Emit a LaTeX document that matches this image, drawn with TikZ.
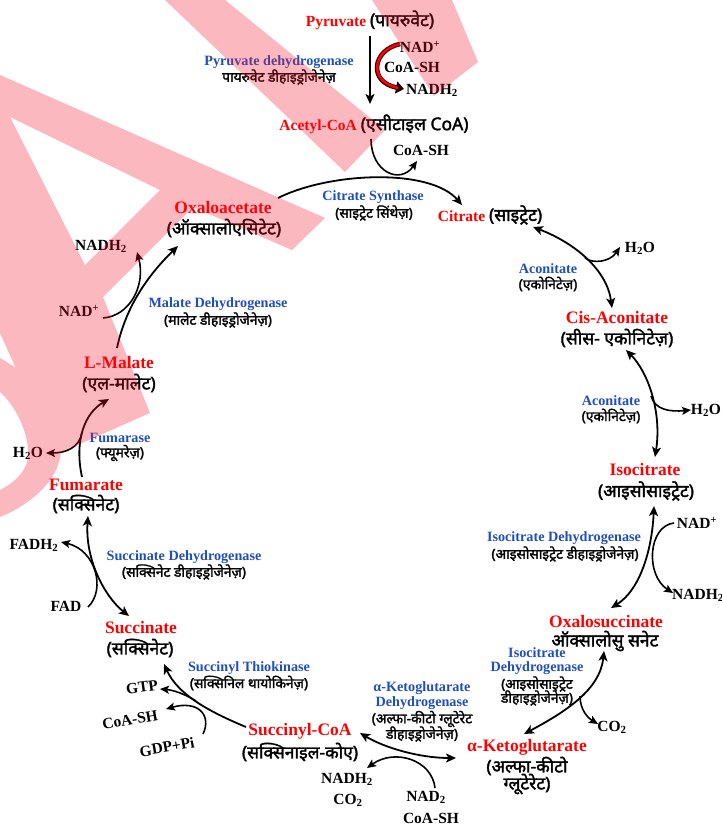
\documentclass[tikz,border=0pt]{standalone}
\usepackage{fontspec}
\setmainfont{Liberation Serif}
\newfontfamily\dev[Script=Devanagari,FakeBold=2]{Noto Sans}
\usetikzlibrary{arrows.meta}
\definecolor{enzblue}{RGB}{31,78,189}
\definecolor{wm}{RGB}{245,20,40}
\definecolor{mainred}{RGB}{255,0,0}
\newcommand\hbig{\dev\mdseries\fontsize{17.5}{19}\selectfont}
\newcommand\hsmall{\dev\mdseries\fontsize{13.8}{15}\selectfont}
\begin{document}
\begin{tikzpicture}[x=1pt,y=-1pt,
  mol/.style={font=\bfseries\fontsize{17.5}{19}\selectfont, text=mainred, inner sep=0pt},
  hin/.style={font=\hbig, inner sep=0pt},
  enz/.style={font=\bfseries\fontsize{14.2}{16}\selectfont, text=enzblue, inner sep=0pt},
  enzh/.style={font=\hsmall, inner sep=0pt},
  chem/.style={font=\bfseries\fontsize{15.5}{17}\selectfont, inner sep=0pt},
  rxn/.style={line width=1.8pt, -{Stealth[length=10pt,width=9pt,inset=2.5pt]}},
  rxn2/.style={line width=1.8pt, {Stealth[length=10pt,width=9pt,inset=2.5pt]}-{Stealth[length=10pt,width=9pt,inset=2.5pt]}},
  side/.style={line width=1.6pt, -{Stealth[length=9pt,width=8pt,inset=2pt]}}]
\useasboundingbox (0,0) rectangle (722,829);
\fill[white] (0,0) rectangle (722,829);

% ---------- texts ----------
\node[chem] (pyr) at (370,20) {\textcolor{mainred}{Pyruvate} {\hbig(पायरुवेट)}};
\node[chem] (nad1) at (420,47) {NAD\textsuperscript{+}};
\node[chem] (coa1) at (412,67) {CoA-SH};
\node[chem] (nadh1) at (432,90) {NADH\textsubscript{2}};
\node[enz] (pdh) at (279,62) {Pyruvate dehydrogenase};
\node[enzh] (pdhh) at (279,77) {पायरुवेट डीहाइड्रोजेनेज़};
\node[chem] (acoa) at (374,124) {\textcolor{mainred}{Acetyl-CoA} {\hbig(एसीटाइल CoA)}};
\node[chem] (coa2) at (421,150) {CoA-SH};
\node[enz] (cs) at (373,197) {Citrate Synthase};
\node[enzh] (csh) at (374,213) {(साइट्रेट सिंथेज़)};
\node[chem] (cit) at (490,215) {\textcolor{mainred}{Citrate} {\hbig(साइट्रेट)}};
\node[mol] (oaa) at (223,208) {Oxaloacetate};
\node[hin] (oaah) at (224,228) {(ऑक्सालोएसिटेट)};
\node[chem] (w1) at (640,248) {H\textsubscript{2}O};
\node[enz] (acn1) at (548,269) {Aconitate};
\node[enzh] (acn1h) at (548,284) {(एकोनिटेज़)};
\node[mol] (cis) at (617,318) {Cis-Aconitate};
\node[hin] (cish) at (617,338) {(सीस- एकोनिटेज़)};
\node[enz] (acn2) at (611,401) {Aconitate};
\node[enzh] (acn2h) at (611,416) {(एकोनिटेज़)};
\node[chem] (w2) at (706,410) {H\textsubscript{2}O};
\node[mol] (iso) at (645,470) {Isocitrate};
\node[hin] (isoh) at (646,491) {(आइसोसाइट्रेट)};
\node[enz] (idh) at (564,538) {Isocitrate Dehydrogenase};
\node[enzh] (idhh) at (565,554) {(आइसोसाइट्रेट डीहाइड्रोजेनेज़)};
\node[chem] (nad3) at (697,523) {NAD\textsuperscript{+}};
\node[chem, anchor=west] (nadh3) at (672,595) {NADH\textsubscript{2}};
\node[mol] (oxs) at (606,622) {Oxalosuccinate};
\node[hin] (oxsh) at (605,641) {ऑक्सालोसु सनेट};
\node[enz] (idb1) at (537,653) {Isocitrate};
\node[enz] (idb2) at (537,668) {Dehydrogenase};
\node[enzh] (idb3) at (537,684) {(आइसोसाइट्रेट};
\node[enzh] (idb4) at (537,698) {डीहाइड्रोजेनेज़)};
\node[chem] (co2a) at (612,727) {CO\textsubscript{2}};
\node[mol] (akg) at (527,747) {α-Ketoglutarate};
\node[hin] (akgh1) at (527,766) {(अल्फा-कीटो};
\node[hin] (akgh2) at (527,784) {ग्लूटेरेट)};
\node[enz] (kdh1) at (422,688) {α-Ketoglutarate};
\node[enz] (kdh2) at (422,703) {Dehydrogenase};
\node[enzh] (kdh3) at (422,719) {(अल्फा-कीटो ग्लूटेरेट};
\node[enzh] (kdh4) at (422,734) {डीहाइड्रोजेनेज़)};
\node[chem] (nad4) at (426,797) {NAD\textsubscript{2}};
\node[chem] (coa4) at (431,818) {CoA-SH};
\node[chem] (nadh4) at (347,779) {NADH\textsubscript{2}};
\node[chem] (co2b) at (348,800) {CO\textsubscript{2}};
\node[mol] (scoa) at (300,731) {Succinyl-CoA};
\node[hin] (scoah) at (300,752) {(सक्सिनाइल-कोए)};
\node[enz] (stk) at (249,668) {Succinyl Thiokinase};
\node[enzh] (stkh) at (249,683) {(सक्सिनिल थायोकिनेज़)};
\node[chem, rotate=8] (gtp) at (142,687) {GTP};
\node[chem, rotate=10] (coa5) at (130,720) {CoA-SH};
\node[chem, rotate=10] (gdp) at (167,747) {GDP+Pi};
\node[mol] (suc) at (141,628) {Succinate};
\node[hin] (such) at (140,648) {(सक्सिनेट)};
\node[enz] (sdh) at (184,557) {Succinate Dehydrogenase};
\node[enzh] (sdhh) at (184,572) {(सक्सिनेट डीहाइड्रोजेनेज़)};
\node[chem] (fadh) at (34,545) {FADH\textsubscript{2}};
\node[chem] (fad) at (66,606) {FAD};
\node[mol] (fum) at (86,485) {Fumarate};
\node[hin] (fumh) at (86,504) {(सक्सिनेट)};
\node[enz] (fuz) at (120,438) {Fumarase};
\node[enzh] (fuzh) at (120,453) {(फ्यूमरेज़)};
\node[chem] (w3) at (28,453) {H\textsubscript{2}O};
\node[mol] (mal) at (119,363) {L-Malate};
\node[hin] (malh) at (119,383) {(एल-मालेट)};
\node[enz] (mdh) at (218,304) {Malate Dehydrogenase};
\node[enzh] (mdhh) at (218,320) {(मालेट डीहाइड्रोजेनेज़)};
\node[chem] (nad5) at (79,311) {NAD\textsuperscript{+}};
\node[chem] (nadh5) at (101,246) {NADH\textsubscript{2}};

% ---------- connector end points ----------
\coordinate (a1s) at (370,36); \coordinate (a1e) at (370,104);
\coordinate (r1s) at (400,44); \coordinate (r1e) at (404,89);
\coordinate (a2s) at (371,139); \coordinate (a2e) at (417,161);
\coordinate (cs1) at (278,198); \coordinate (cs2) at (462,205);
\coordinate (ac1) at (533,227); \coordinate (ac2) at (612,308);
\coordinate (h1s) at (585,258); \coordinate (h1e) at (620,247);
\coordinate (ac3) at (626,350); \coordinate (ac4) at (655,457);
\coordinate (h2s) at (651,396); \coordinate (h2e) at (691,410);
\coordinate (id1) at (654,506); \coordinate (id2) at (611,608);
\coordinate (n3s) at (674,523); \coordinate (n3e) at (673,593);
\coordinate (id3) at (604,651); \coordinate (id4) at (524,734);
\coordinate (c2s) at (580,696); \coordinate (c2e) at (598,724);
\coordinate (kd1) at (456,758); \coordinate (kd2) at (360,733);
\coordinate (n4s) at (435,788); \coordinate (n4e) at (367,768);
\coordinate (st1) at (246,727); \coordinate (st2) at (164,664);
\coordinate (g1s) at (196,701); \coordinate (g1e) at (160,689);
\coordinate (g2s) at (203,734); \coordinate (g2e) at (166,709);
\coordinate (sd1) at (88,516); \coordinate (sd2) at (129,616);
\coordinate (f1s) at (88,607); \coordinate (f1e) at (61,542);
\coordinate (fu1) at (82,477); \coordinate (fu2) at (109,399);
\coordinate (w3s) at (82,432); \coordinate (w3e) at (46,453);
\coordinate (md1) at (117,348); \coordinate (md2) at (178,246);
\coordinate (n5s) at (103,318); \coordinate (n5e) at (137,252);

% ---------- connectors ----------
\draw[rxn] (a1s) -- (a1e);
\draw[line width=4.6pt, black!85!red, -{Triangle[length=8pt,width=12pt]}] (r1s) .. controls (372,50) and (368,82) .. (r1e);
\draw[line width=2.6pt, red, shorten >=6pt] (r1s) .. controls (372,50) and (368,82) .. (r1e);
\draw[side] (a2s) .. controls (371,172) and (400,185) .. (a2e);
\draw[rxn] (cs1) .. controls (330,172) and (430,168) .. (cs2);
\draw[rxn2] (ac1) .. controls (575,243) and (607,270) .. (ac2);
\draw[side] (h1s) .. controls (593,264) and (610,262) .. (h1e);
\draw[rxn2] (ac3) .. controls (648,372) and (662,412) .. (ac4);
\draw[side] (h2s) .. controls (655,410) and (670,412) .. (h2e);
\draw[rxn2] (id1) .. controls (652,550) and (640,590) .. (id2);
\draw[side] (n3s) .. controls (648,526) and (645,575) .. (n3e);
\draw[rxn2] (id3) .. controls (600,690) and (565,712) .. (id4);
\draw[side] (c2s) .. controls (580,710) and (588,718) .. (c2e);
\draw[rxn2] (kd1) .. controls (420,758) and (385,748) .. (kd2);
\draw[side] (n4s) .. controls (432,760) and (395,748) .. (n4e);
\draw[rxn] (st1) .. controls (210,712) and (178,695) .. (st2);
\draw[side] (g1s) .. controls (185,694) and (173,690) .. (g1e);
\draw[side] (g2s) .. controls (212,715) and (198,700) .. (g2e);
\draw[rxn2] (sd1) .. controls (85,560) and (105,597) .. (sd2);
\draw[side] (f1s) .. controls (106,590) and (96,550) .. (f1e);
\draw[rxn] (fu1) .. controls (74,440) and (85,413) .. (fu2);
\draw[side] (w3s) .. controls (80,448) and (65,453) .. (w3e);
\draw[rxn] (md1) .. controls (125,310) and (145,278) .. (md2);
\draw[side] (n5s) .. controls (130,316) and (146,285) .. (n5e);

% ---------- watermark overlay ----------
\fill[wm, opacity=0.3, nonzero rule]
  (0,75) -- (325,218) -- (292,250) -- (193,207) -- (103,297) -- (150,413) -- (55,455) -- (0,333) -- cycle
  (10,117) -- (85,265) -- (160,190) -- cycle
  (0,358) .. controls (30,375) and (58,400) .. (61,450) .. controls (60,480) and (30,505) .. (0,517) -- (0,490) .. controls (20,480) and (30,465) .. (28,450) .. controls (27,430) and (15,405) .. (0,392) -- cycle
  (165,0) -- (225,0) -- (385,130) -- (345,172) -- cycle
  (372,0) -- (452,0) -- (478,62) -- (434,96) -- cycle;
\end{tikzpicture}
\end{document}
